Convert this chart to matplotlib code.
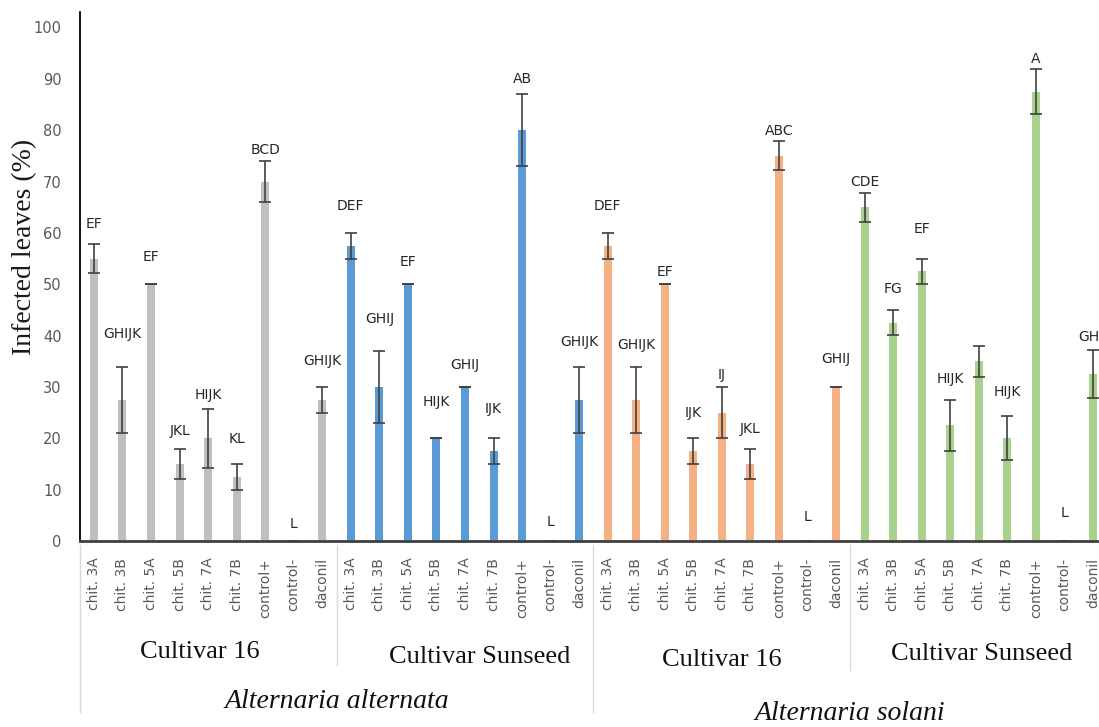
import matplotlib.pyplot as plt
import matplotlib.transforms as mtransforms
import numpy as np

treatments = ["chit. 3A", "chit. 3B", "chit. 5A", "chit. 5B", "chit. 7A",
              "chit. 7B", "control+", "control-", "daconil"]
cultivars = ["Cultivar 16", "Cultivar Sunseed", "Cultivar 16", "Cultivar Sunseed"]
species = ["Alternaria alternata", "Alternaria solani"]

# infected leaves (%) and error, one list per cultivar/pathogen block
alt_c16 = [55, 27.5, 50, 15, 20, 12.5, 70, 0, 27.5]
alt_c16_err = [2.9, 6.4, 0, 3, 5.7, 2.5, 4, 0, 2.5]
alt_sun = [57.5, 30, 50, 20, 30, 17.5, 80, 0, 27.5]
alt_sun_err = [2.5, 7, 0, 0, 0, 2.5, 7, 0, 6.4]
sol_c16 = [57.5, 27.5, 50, 17.5, 25, 15, 75, 0, 30]
sol_c16_err = [2.5, 6.4, 0, 2.5, 5, 3, 2.8, 0, 0]
sol_sun = [65, 42.5, 52.5, 22.5, 35, 20, 87.5, 0, 32.5]
sol_sun_err = [2.8, 2.4, 2.5, 4.9, 3, 4.3, 4.4, 0, 4.7]

# Tukey letters and the height they are written at
letters = [
    ["EF", "GHIJK", "EF", "JKL", "HIJK", "KL", "BCD", "L", "GHIJK"],
    ["DEF", "GHIJ", "EF", "HIJK", "GHIJ", "IJK", "AB", "L", "GHIJK"],
    ["DEF", "GHIJK", "EF", "IJK", "IJ", "JKL", "ABC", "L", "GHIJ"],
    ["CDE", "FG", "EF", "HIJK", "", "HIJK", "A", "L", "GHIJ"],
]
letter_y = [
    [61.8, 40.4, 55.4, 21.5, 28.5, 19.8, 76.1, 3.3, 35.1],
    [65.2, 43.2, 54.4, 27.0, 34.2, 25.7, 89.9, 3.8, 38.8],
    [65.2, 38.1, 52.3, 24.9, 32.4, 21.8, 79.9, 4.7, 35.4],
    [69.9, 49.1, 60.8, 31.6, 0, 29.1, 93.8, 5.4, 39.8],
]

blocks = [alt_c16, alt_sun, sol_c16, sol_sun]
block_err = [alt_c16_err, alt_sun_err, sol_c16_err, sol_sun_err]
colors = ["#BFBFBF", "#5B9BD5", "#F4B183", "#A9D18E"]

W, H = 1099, 727
fig = plt.figure(figsize=(W / 100, H / 100), dpi=100)
ax = fig.add_axes([0.0725, 0.2558, 0.9349, 0.7276])

n = len(treatments)
for b, (vals, errs) in enumerate(zip(blocks, block_err)):
    x = np.arange(n) + b * n
    ax.bar(x, vals, width=0.28, color=colors[b], zorder=2)
    ax.errorbar(x, vals, yerr=errs, fmt="none", ecolor="#404040",
                elinewidth=1.2, capsize=4, capthick=1.2, zorder=3)
    for i in range(n):
        if letters[b][i]:
            ax.text(x[i], letter_y[b][i], letters[b][i], ha="center",
                    va="center", fontsize=10, color="#262626")

ax.set_xlim(-0.5, 4 * n - 0.5)
ax.set_ylim(0, 103)
ax.set_yticks(np.arange(0, 101, 10))
ax.tick_params(axis="y", length=0, labelsize=10.5, labelcolor="#595959", pad=13)
ax.set_xticks(np.arange(4 * n))
ax.set_xticklabels(treatments * 4, rotation=90, fontsize=10, color="#595959")
ax.tick_params(axis="x", length=0, pad=12)

ax.spines["top"].set_visible(False)
ax.spines["right"].set_visible(False)
ax.spines["left"].set_color("black")
ax.spines["left"].set_linewidth(1.3)
ax.spines["bottom"].set_color("#404040")
ax.spines["bottom"].set_linewidth(2)

fig.text(25 / W, 1 - 247 / H, "Infected leaves (%)", rotation=90, ha="center",
         va="center", family="Liberation Serif", fontsize=20, color="#1a1a1a")

# category axis: separators and group titles under the tick labels
trans = mtransforms.blended_transform_factory(ax.transData, fig.transFigure)
sep_bottom = {-0.5: 712, 8.5: 665, 17.5: 712, 26.5: 670}
for xs, ybot in sep_bottom.items():
    ax.plot([xs, xs], [1 - 545 / H, 1 - ybot / H], color="#D9D9D9",
            lw=1, transform=trans, clip_on=False)

cult_x = [3.7, 13.5, 22.0, 31.1]
cult_y = [652, 657, 660, 654]
for b, name in enumerate(cultivars):
    ax.text(cult_x[b], 1 - cult_y[b] / H, name, transform=trans,
            ha="center", va="center", family="Liberation Serif", fontsize=19,
            color="#111111")

spec_y = [702, 714]
for s, name in enumerate(species):
    ax.text(s * 2 * n + n - 0.5, 1 - spec_y[s] / H, name, transform=trans,
            ha="center", va="center", family="Liberation Serif", style="italic",
            fontsize=20, color="#111111")

fig.savefig("out.png", dpi=100)
